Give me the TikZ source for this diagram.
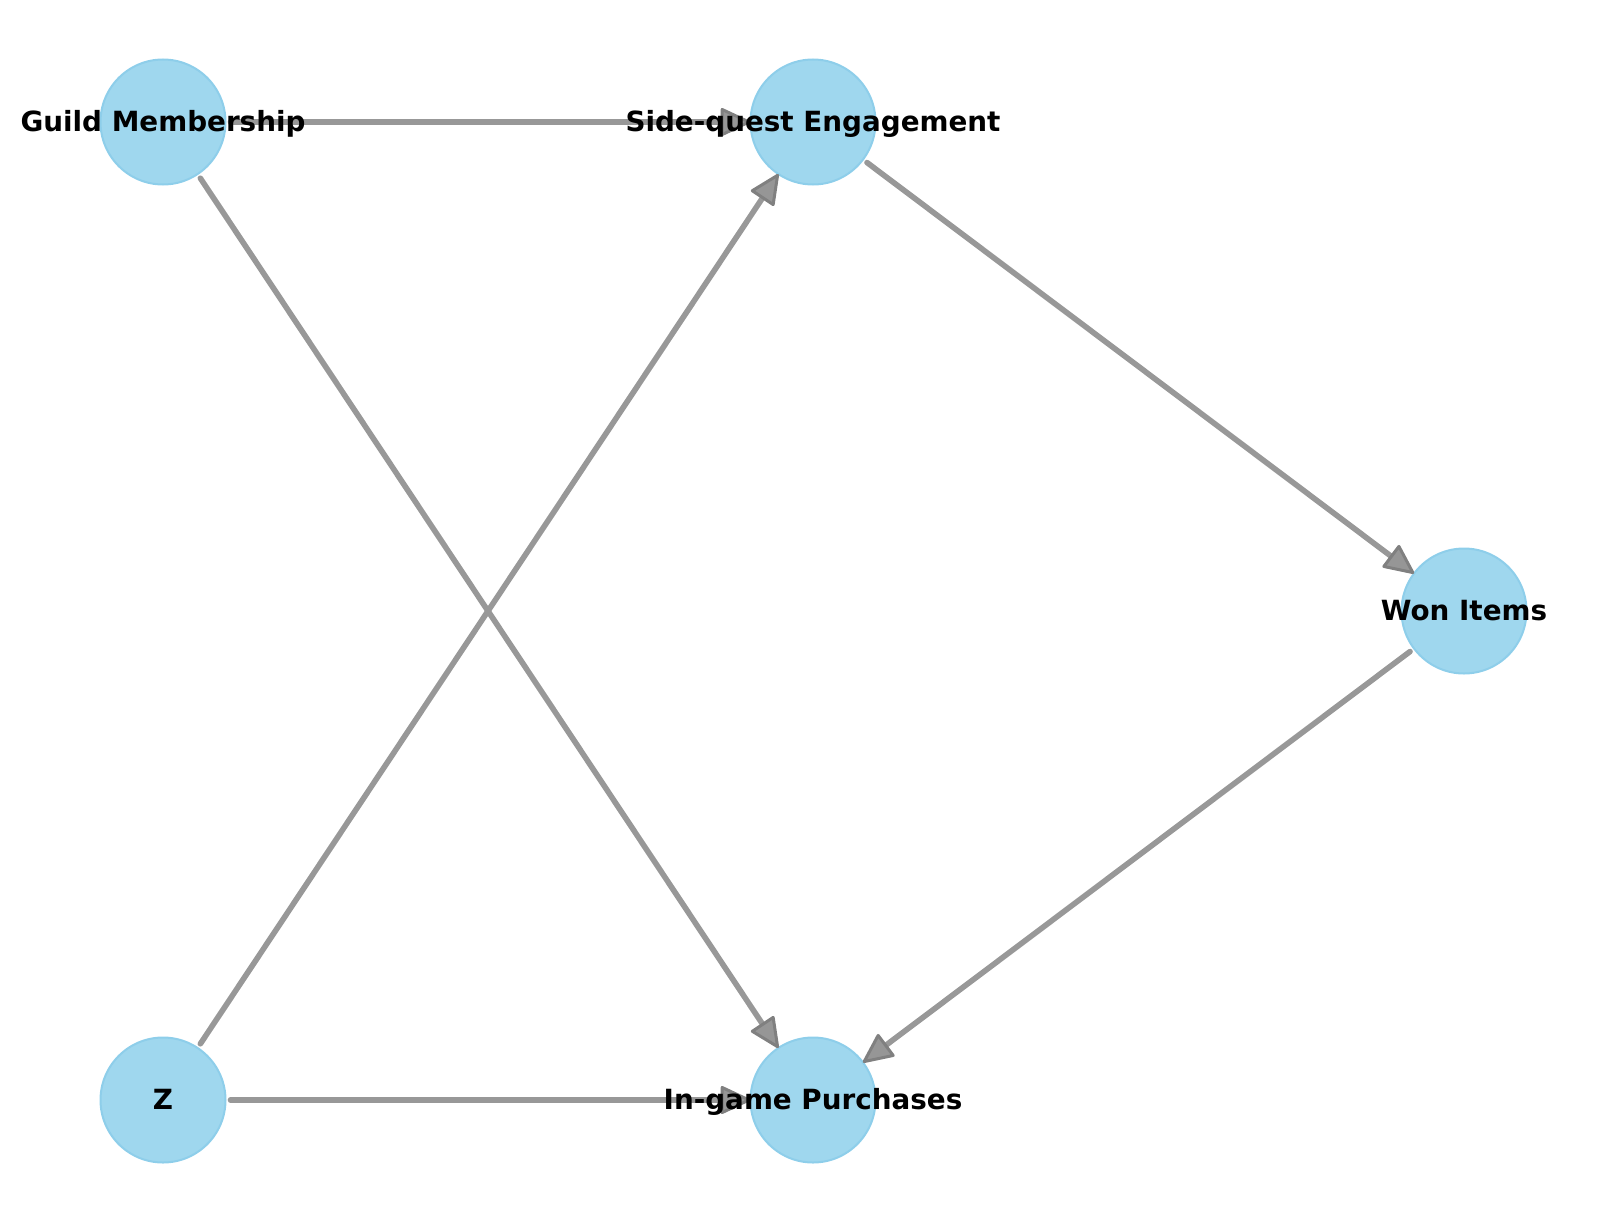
\documentclass[tikz,border=0pt]{standalone}
\usepackage{fontspec}
\setmainfont{DejaVu Sans}
\usetikzlibrary{arrows.meta}
\definecolor{nodefill}{RGB}{159,215,238}
\definecolor{nodeedge}{RGB}{142,206,234}
\definecolor{edgecol}{RGB}{152,152,152}
\definecolor{tipfill}{RGB}{150,150,150}
\definecolor{tipedge}{RGB}{128,128,128}
\begin{document}
\begin{tikzpicture}[x=1pt,y=-1pt,
  vnode/.style={circle,fill=nodefill,draw=nodeedge,line width=2pt,minimum size=125pt,inner sep=0pt,outer sep=0pt},
  vlabel/.style={anchor=base,inner sep=0pt,font=\fontsize{27.8}{33}\selectfont\bfseries,text=black},
  edgeline/.style={draw=edgecol,line width=5.6pt,line cap=round,shorten <=5pt,
    -{Triangle[length=32pt,width=29pt,fill=tipfill,color=tipedge,line width=3pt,round]}}
]
\useasboundingbox (0,0) rectangle (1621,1223);
\node[vnode] (G) at (163,122) {};
\node[vnode] (S) at (813,122) {};
\node[vnode] (W) at (1464,611) {};
\node[vnode] (Z) at (163,1100) {};
\node[vnode] (P) at (813,1100) {};
\draw[edgeline] (G) -- (S);
\draw[edgeline] (G) -- (P);
\draw[edgeline] (S) -- (W);
\draw[edgeline] (W) -- (P);
\draw[edgeline] (Z) -- (S);
\draw[edgeline] (Z) -- (P);
\node[vlabel] (tG) at (163,131) {Guild Membership};
\node[vlabel] (tS) at (813,131) {Side-quest Engagement};
\node[vlabel] (tW) at (1464,620) {Won Items};
\node[vlabel] (tZ) at (163,1109) {Z};
\node[vlabel] (tP) at (813,1109) {In-game Purchases};
\end{tikzpicture}
\end{document}
